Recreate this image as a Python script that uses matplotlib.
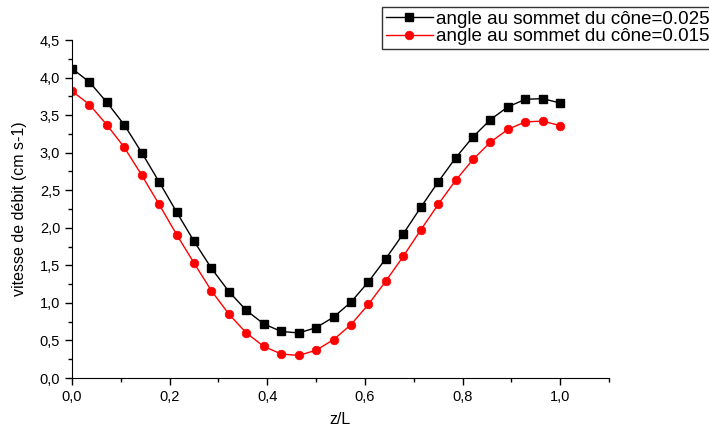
import numpy as np
import matplotlib.pyplot as plt
from matplotlib.ticker import MultipleLocator, FuncFormatter

plt.rcParams['font.family'] = ['Liberation Sans', 'DejaVu Sans']

# z/L positions (29 points)
z = np.arange(29) / 28.0

v_025 = [4.12, 3.94, 3.67, 3.37, 3.00, 2.61, 2.21, 1.82, 1.46, 1.15,
         0.90, 0.72, 0.62, 0.60, 0.67, 0.81, 1.01, 1.28, 1.59, 1.92,
         2.27, 2.61, 2.93, 3.21, 3.44, 3.61, 3.71, 3.72, 3.66]
v_015 = [3.82, 3.64, 3.37, 3.07, 2.70, 2.31, 1.91, 1.53, 1.16, 0.85,
         0.60, 0.42, 0.32, 0.30, 0.37, 0.51, 0.71, 0.98, 1.29, 1.62,
         1.97, 2.31, 2.63, 2.91, 3.14, 3.31, 3.41, 3.42, 3.36]

labels = ['angle au sommet du cône=0.025', 'angle au sommet du cône=0.015']

fig = plt.figure(figsize=(7.09, 4.30), dpi=100)
ax = fig.add_axes([72/709, 1 - 378/430, (609-72)/709, (378-40)/430])

ax.plot(z, v_025, color='black', marker='s', markersize=5.5, mew=1, lw=1, label=labels[0])
ax.plot(z, v_015, color='red', marker='o', markersize=6.2, mew=0.5, lw=1, label=labels[1])

ax.set_xlim(0, 1.1)
ax.set_ylim(0, 4.5)
ax.xaxis.set_major_locator(MultipleLocator(0.2))
ax.xaxis.set_minor_locator(MultipleLocator(0.1))
ax.yaxis.set_major_locator(MultipleLocator(0.5))
ax.yaxis.set_minor_locator(MultipleLocator(0.25))
comma = FuncFormatter(lambda v, p: f'{v:.1f}'.replace('.', ','))
ax.xaxis.set_major_formatter(comma)
ax.yaxis.set_major_formatter(comma)
ax.spines['top'].set_visible(False)
ax.spines['right'].set_visible(False)
ax.tick_params(which='major', length=5, width=1, labelsize=10.5)
ax.tick_params(which='minor', length=3, width=1)

ax.set_xlabel('z/L', fontsize=11.5, labelpad=6)
ax.set_ylabel('vitesse de débit (cm s-1)', fontsize=11.5, labelpad=9)

leg = fig.legend(loc='upper left', bbox_to_anchor=(382/709, 1 - 7/430),
                 fontsize=13.5, frameon=True, fancybox=False, edgecolor='black',
                 handlelength=2.5, borderpad=0.2, labelspacing=0.02,
                 handletextpad=0.2, borderaxespad=0)
leg.get_frame().set_linewidth(1)

fig.savefig('out.png', dpi=100)
